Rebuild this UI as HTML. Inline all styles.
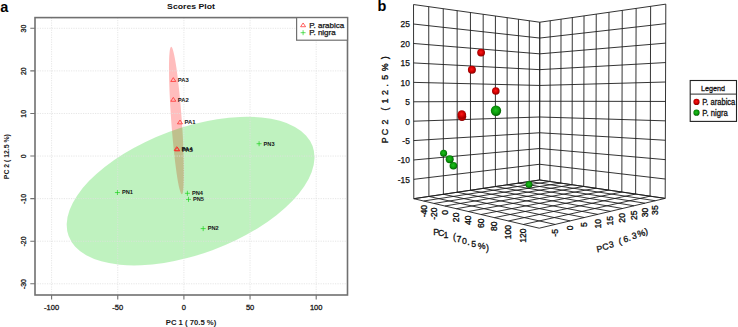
<!DOCTYPE html>
<html><head><meta charset="utf-8"><style>
html,body{margin:0;padding:0;background:#fff;}
body{width:738px;height:327px;overflow:hidden;}
svg{display:block;}
</style></head><body>
<svg width="738" height="327" viewBox="0 0 738 327">
<defs><radialGradient id="gr" cx="0.47" cy="0.45" r="0.6"><stop offset="0" stop-color="#ff1818"/><stop offset="0.55" stop-color="#cc0000"/><stop offset="1" stop-color="#780000"/></radialGradient><radialGradient id="gg" cx="0.47" cy="0.45" r="0.6"><stop offset="0" stop-color="#20c020"/><stop offset="0.55" stop-color="#0a9a0a"/><stop offset="1" stop-color="#004c00"/></radialGradient></defs>
<rect width="738" height="327" fill="#fff"/>
<ellipse cx="176.5" cy="120.5" rx="5.3" ry="74" transform="rotate(-4.15 176.5 120.5)" fill="rgb(255,0,0)" fill-opacity="0.26"/>
<ellipse cx="190.6" cy="191.1" rx="130" ry="63" transform="rotate(-20.25 190.6 191.1)" fill="rgb(0,205,0)" fill-opacity="0.25"/>
<path d="M51.6 17.6V295M117.75 17.6V295M183.9 17.6V295M250.05 17.6V295M316.2 17.6V295M35 28.31H347.5M35 70.89H347.5M35 113.47H347.5M35 156.05H347.5M35 198.63H347.5M35 241.21H347.5M35 283.79H347.5" stroke="#e0e0e0" stroke-width="0.8" stroke-dasharray="1.2 1.2" fill="none"/>
<path d="M173.3 77.63L175.85 81.45L170.75 81.45Z" fill="none" stroke="#ff2020" stroke-width="0.7"/>
<path d="M173.3 97.43L175.85 101.25L170.75 101.25Z" fill="none" stroke="#ff2020" stroke-width="0.7"/>
<path d="M180 120.03L182.55 123.85L177.45 123.85Z" fill="none" stroke="#ff2020" stroke-width="0.7"/>
<path d="M176.7 146.63L179.25 150.45L174.15 150.45Z" fill="none" stroke="#ff2020" stroke-width="0.7"/>
<path d="M177.3 147.13L179.85 150.95L174.75 150.95Z" fill="none" stroke="#ff2020" stroke-width="0.7"/>
<path d="M114.95 192.55H119.95M117.45 190.05V195.05" stroke="#10d010" stroke-width="0.65" fill="none"/>
<path d="M200.7 228.6H205.7M203.2 226.1V231.1" stroke="#10d010" stroke-width="0.65" fill="none"/>
<path d="M256.6 143.7H261.6M259.1 141.2V146.2" stroke="#10d010" stroke-width="0.65" fill="none"/>
<path d="M184.9 193.3H189.9M187.4 190.8V195.8" stroke="#10d010" stroke-width="0.65" fill="none"/>
<path d="M186 199.4H191M188.5 196.9V201.9" stroke="#10d010" stroke-width="0.65" fill="none"/>
<text x="177.8" y="81.8" font-family="'Liberation Sans', sans-serif" font-size="5.3" font-weight="bold" textLength="11" lengthAdjust="spacingAndGlyphs" fill="#151515" >PA3</text><text x="177.8" y="101.6" font-family="'Liberation Sans', sans-serif" font-size="5.3" font-weight="bold" textLength="11" lengthAdjust="spacingAndGlyphs" fill="#151515" >PA2</text><text x="184.5" y="124.2" font-family="'Liberation Sans', sans-serif" font-size="5.3" font-weight="bold" textLength="11" lengthAdjust="spacingAndGlyphs" fill="#151515" >PA1</text><text x="121.95" y="194.35" font-family="'Liberation Sans', sans-serif" font-size="5.3" font-weight="bold" textLength="11" lengthAdjust="spacingAndGlyphs" fill="#151515" >PN1</text><text x="207.7" y="230.4" font-family="'Liberation Sans', sans-serif" font-size="5.3" font-weight="bold" textLength="11" lengthAdjust="spacingAndGlyphs" fill="#151515" >PN2</text><text x="263.6" y="145.5" font-family="'Liberation Sans', sans-serif" font-size="5.3" font-weight="bold" textLength="11" lengthAdjust="spacingAndGlyphs" fill="#151515" >PN3</text><text x="191.9" y="195.1" font-family="'Liberation Sans', sans-serif" font-size="5.3" font-weight="bold" textLength="11" lengthAdjust="spacingAndGlyphs" fill="#151515" >PN4</text><text x="193" y="201.2" font-family="'Liberation Sans', sans-serif" font-size="5.3" font-weight="bold" textLength="11" lengthAdjust="spacingAndGlyphs" fill="#151515" >PN5</text><text x="181.6" y="151.1" font-family="'Liberation Sans', sans-serif" font-size="5.3" font-weight="bold" textLength="11" lengthAdjust="spacingAndGlyphs" fill="#151515" >PA4</text><text x="182.1" y="151.6" font-family="'Liberation Sans', sans-serif" font-size="5.3" font-weight="bold" textLength="11" lengthAdjust="spacingAndGlyphs" fill="#151515" >PA5</text>
<rect x="35" y="17.6" width="312.5" height="277.4" fill="none" stroke="#707070" stroke-width="1.6"/>
<path d="M51.6 295V299.5M117.75 295V299.5M183.9 295V299.5M250.05 295V299.5M316.2 295V299.5M30.3 28.31H35M30.3 70.89H35M30.3 113.47H35M30.3 156.05H35M30.3 198.63H35M30.3 241.21H35M30.3 283.79H35" stroke="#707070" stroke-width="1.1" fill="none"/>
<text x="51.6" y="309.8" font-family="'Liberation Sans', sans-serif" font-size="7.5" text-anchor="middle" fill="#1a1a1a" stroke="#1a1a1a" stroke-width="0.3">-100</text><text x="117.75" y="309.8" font-family="'Liberation Sans', sans-serif" font-size="7.5" text-anchor="middle" fill="#1a1a1a" stroke="#1a1a1a" stroke-width="0.3">-50</text><text x="183.9" y="309.8" font-family="'Liberation Sans', sans-serif" font-size="7.5" text-anchor="middle" fill="#1a1a1a" stroke="#1a1a1a" stroke-width="0.3">0</text><text x="250.05" y="309.8" font-family="'Liberation Sans', sans-serif" font-size="7.5" text-anchor="middle" fill="#1a1a1a" stroke="#1a1a1a" stroke-width="0.3">50</text><text x="316.2" y="309.8" font-family="'Liberation Sans', sans-serif" font-size="7.5" text-anchor="middle" fill="#1a1a1a" stroke="#1a1a1a" stroke-width="0.3">100</text><g transform="translate(25.5 28.61) rotate(-90)"><text x="0" y="0" font-family="'Liberation Sans', sans-serif" font-size="7.0" text-anchor="middle" fill="#1a1a1a" stroke="#1a1a1a" stroke-width="0.3">30</text></g><g transform="translate(25.5 71.19) rotate(-90)"><text x="0" y="0" font-family="'Liberation Sans', sans-serif" font-size="7.0" text-anchor="middle" fill="#1a1a1a" stroke="#1a1a1a" stroke-width="0.3">20</text></g><g transform="translate(25.5 113.77) rotate(-90)"><text x="0" y="0" font-family="'Liberation Sans', sans-serif" font-size="7.0" text-anchor="middle" fill="#1a1a1a" stroke="#1a1a1a" stroke-width="0.3">10</text></g><g transform="translate(25.5 156.35) rotate(-90)"><text x="0" y="0" font-family="'Liberation Sans', sans-serif" font-size="7.0" text-anchor="middle" fill="#1a1a1a" stroke="#1a1a1a" stroke-width="0.3">0</text></g><g transform="translate(25.5 198.93) rotate(-90)"><text x="0" y="0" font-family="'Liberation Sans', sans-serif" font-size="7.0" text-anchor="middle" fill="#1a1a1a" stroke="#1a1a1a" stroke-width="0.3">-10</text></g><g transform="translate(25.5 241.51) rotate(-90)"><text x="0" y="0" font-family="'Liberation Sans', sans-serif" font-size="7.0" text-anchor="middle" fill="#1a1a1a" stroke="#1a1a1a" stroke-width="0.3">-20</text></g><g transform="translate(25.5 284.09) rotate(-90)"><text x="0" y="0" font-family="'Liberation Sans', sans-serif" font-size="7.0" text-anchor="middle" fill="#1a1a1a" stroke="#1a1a1a" stroke-width="0.3">-30</text></g>
<text x="191" y="324.6" font-family="'Liberation Sans', sans-serif" font-size="7.2" font-weight="bold" text-anchor="middle" textLength="50.5" lengthAdjust="spacingAndGlyphs" fill="#1a1a1a" >PC 1 ( 70.5 %)</text>
<g transform="translate(8.9 156.7) rotate(-90)"><text x="0" y="0" font-family="'Liberation Sans', sans-serif" font-size="7.2" font-weight="bold" text-anchor="middle" textLength="45" lengthAdjust="spacingAndGlyphs" fill="#1a1a1a" >PC 2 ( 12.5 %)</text></g>
<text x="191" y="9.1" font-family="'Liberation Sans', sans-serif" font-size="7.6" font-weight="bold" text-anchor="middle" textLength="47.8" lengthAdjust="spacingAndGlyphs" fill="#111" >Scores Plot</text>
<rect x="296.6" y="17.6" width="50.9" height="22.6" fill="#fff" stroke="#707070" stroke-width="1.2"/>
<path d="M303.1 22.98L305.6 26.73L300.6 26.73Z" fill="none" stroke="#ff2020" stroke-width="0.7"/>
<path d="M300.6 32.7H305.6M303.1 30.2V35.2" stroke="#10d010" stroke-width="0.65" fill="none"/>
<text x="309.2" y="27.7" font-family="'Liberation Sans', sans-serif" font-size="6.5" textLength="35" lengthAdjust="spacingAndGlyphs" fill="#1a1a1a" stroke="#1a1a1a" stroke-width="0.25">P. arabica</text>
<text x="309.2" y="35.3" font-family="'Liberation Sans', sans-serif" font-size="6.5" textLength="26.4" lengthAdjust="spacingAndGlyphs" fill="#1a1a1a" stroke="#1a1a1a" stroke-width="0.25">P. nigra</text>
<text x="0.3" y="11.5" font-family="'Liberation Sans', sans-serif" font-size="14.5" font-weight="bold" fill="#000" >a</text>
<path d="M413.79 198.69L413.53 4.54M428.92 196.44L428.72 6.67M443.39 194.29L443.24 8.7M457.23 192.23L457.13 10.65M470.49 190.26L470.43 12.52M483.2 188.37L483.18 14.3M495.39 186.56L495.41 16.02M507.1 184.82L507.16 17.66M518.36 183.14L518.45 19.24M529.19 181.53L529.31 20.77M539.61 179.99L539.76 22.23M413.79 198.69L539.61 179.99M413.77 179.34L539.62 164.25M413.74 159.97L539.64 148.51M413.71 140.59L539.65 132.75M413.69 121.19L539.67 116.99M413.66 101.79L539.68 101.22M413.64 82.37L539.7 85.44M413.61 62.93L539.71 69.65M413.58 43.48L539.73 53.85M413.56 24.02L539.74 38.05M413.53 4.54L539.76 22.23M539.61 179.99L539.76 22.23M550.01 181.51L550.19 20.73M560.81 183.09L561.03 19.18M572.04 184.74L572.3 17.56M583.73 186.45L584.03 15.88M595.9 188.23L596.24 14.13M608.59 190.09L608.98 12.3M621.82 192.03L622.26 10.4M635.64 194.05L636.14 8.41M650.08 196.16L650.64 6.33M665.19 198.38L665.81 4.15M539.61 179.99L665.19 198.38M539.62 164.25L665.25 179.02M539.64 148.51L665.31 159.64M539.65 132.75L665.37 140.25M539.67 116.99L665.44 120.85M539.68 101.22L665.5 101.44M539.7 85.44L665.56 82.01M539.71 69.65L665.63 62.56M539.73 53.85L665.69 43.11M539.74 38.05L665.75 23.64M539.76 22.23L665.81 4.15M413.79 198.69L539.61 179.99M423.67 201.01L550.01 181.51M434.03 203.45L560.81 183.09M444.9 206L572.04 184.74M456.32 208.69L583.73 186.45M468.34 211.52L595.9 188.23M481 214.5L608.59 190.09M494.35 217.64L621.82 192.03M508.47 220.96L635.64 194.05M523.4 224.47L650.08 196.16M539.23 228.19L665.19 198.38M413.79 198.69L539.23 228.19M428.92 196.44L555.12 224.43M443.39 194.29L570.12 220.88M457.23 192.23L584.28 217.53M470.49 190.26L597.7 214.35M483.2 188.37L610.41 211.34M495.39 186.56L622.48 208.49M507.1 184.82L633.95 205.77M518.36 183.14L644.86 203.19M529.19 181.53L655.26 200.73M539.61 179.99L665.19 198.38" stroke="#1e1e1e" stroke-width="0.9" fill="none"/>
<circle cx="481.1" cy="52.6" r="3.9" fill="url(#gr)"/>
<circle cx="471.9" cy="69.7" r="4.0" fill="url(#gr)"/>
<circle cx="495.8" cy="91.0" r="3.8" fill="url(#gr)"/>
<circle cx="462.0" cy="116.6" r="4.3" fill="url(#gr)"/>
<circle cx="461.8" cy="114.5" r="4.3" fill="url(#gr)"/>
<circle cx="496.0" cy="110.8" r="5.2" fill="url(#gg)"/>
<circle cx="453.4" cy="165.7" r="3.8" fill="url(#gg)"/>
<circle cx="449.7" cy="159.3" r="4.0" fill="url(#gg)"/>
<circle cx="443.6" cy="153.2" r="3.5" fill="url(#gg)"/>
<circle cx="529.0" cy="184.6" r="3.5" fill="url(#gg)"/>
<text x="409.8" y="182.74" font-family="'Liberation Sans', sans-serif" font-size="8.4" text-anchor="end" fill="#111" stroke="#111" stroke-width="0.25">-15</text><text x="409.8" y="163.37" font-family="'Liberation Sans', sans-serif" font-size="8.4" text-anchor="end" fill="#111" stroke="#111" stroke-width="0.25">-10</text><text x="409.8" y="143.99" font-family="'Liberation Sans', sans-serif" font-size="8.4" text-anchor="end" fill="#111" stroke="#111" stroke-width="0.25">-5</text><text x="409.8" y="124.59" font-family="'Liberation Sans', sans-serif" font-size="8.4" text-anchor="end" fill="#111" stroke="#111" stroke-width="0.25">0</text><text x="409.8" y="105.19" font-family="'Liberation Sans', sans-serif" font-size="8.4" text-anchor="end" fill="#111" stroke="#111" stroke-width="0.25">5</text><text x="409.8" y="85.77" font-family="'Liberation Sans', sans-serif" font-size="8.4" text-anchor="end" fill="#111" stroke="#111" stroke-width="0.25">10</text><text x="409.8" y="66.33" font-family="'Liberation Sans', sans-serif" font-size="8.4" text-anchor="end" fill="#111" stroke="#111" stroke-width="0.25">15</text><text x="409.8" y="46.88" font-family="'Liberation Sans', sans-serif" font-size="8.4" text-anchor="end" fill="#111" stroke="#111" stroke-width="0.25">20</text><text x="409.8" y="27.42" font-family="'Liberation Sans', sans-serif" font-size="8.4" text-anchor="end" fill="#111" stroke="#111" stroke-width="0.25">25</text>
<g transform="translate(426.67 204.91) rotate(-90)"><text x="0" y="0" font-family="'Liberation Sans', sans-serif" font-size="8.6" text-anchor="end" fill="#111" stroke="#111" stroke-width="0.35">-40</text></g><g transform="translate(437.03 207.35) rotate(-90)"><text x="0" y="0" font-family="'Liberation Sans', sans-serif" font-size="8.6" text-anchor="end" fill="#111" stroke="#111" stroke-width="0.35">-20</text></g><g transform="translate(447.9 209.9) rotate(-90)"><text x="0" y="0" font-family="'Liberation Sans', sans-serif" font-size="8.6" text-anchor="end" fill="#111" stroke="#111" stroke-width="0.35">0</text></g><g transform="translate(459.32 212.59) rotate(-90)"><text x="0" y="0" font-family="'Liberation Sans', sans-serif" font-size="8.6" text-anchor="end" fill="#111" stroke="#111" stroke-width="0.35">20</text></g><g transform="translate(471.34 215.42) rotate(-90)"><text x="0" y="0" font-family="'Liberation Sans', sans-serif" font-size="8.6" text-anchor="end" fill="#111" stroke="#111" stroke-width="0.35">40</text></g><g transform="translate(484 218.4) rotate(-90)"><text x="0" y="0" font-family="'Liberation Sans', sans-serif" font-size="8.6" text-anchor="end" fill="#111" stroke="#111" stroke-width="0.35">60</text></g><g transform="translate(497.35 221.54) rotate(-90)"><text x="0" y="0" font-family="'Liberation Sans', sans-serif" font-size="8.6" text-anchor="end" fill="#111" stroke="#111" stroke-width="0.35">80</text></g><g transform="translate(511.47 224.86) rotate(-90)"><text x="0" y="0" font-family="'Liberation Sans', sans-serif" font-size="8.6" text-anchor="end" fill="#111" stroke="#111" stroke-width="0.35">100</text></g><g transform="translate(526.4 228.37) rotate(-90)"><text x="0" y="0" font-family="'Liberation Sans', sans-serif" font-size="8.6" text-anchor="end" fill="#111" stroke="#111" stroke-width="0.35">120</text></g><g transform="translate(558.12 229.03) rotate(-90)"><text x="0" y="0" font-family="'Liberation Sans', sans-serif" font-size="8.6" text-anchor="end" fill="#111" stroke="#111" stroke-width="0.35">-5</text></g><g transform="translate(573.12 225.48) rotate(-90)"><text x="0" y="0" font-family="'Liberation Sans', sans-serif" font-size="8.6" text-anchor="end" fill="#111" stroke="#111" stroke-width="0.35">0</text></g><g transform="translate(587.28 222.13) rotate(-90)"><text x="0" y="0" font-family="'Liberation Sans', sans-serif" font-size="8.6" text-anchor="end" fill="#111" stroke="#111" stroke-width="0.35">5</text></g><g transform="translate(600.7 218.95) rotate(-90)"><text x="0" y="0" font-family="'Liberation Sans', sans-serif" font-size="8.6" text-anchor="end" fill="#111" stroke="#111" stroke-width="0.35">10</text></g><g transform="translate(613.41 215.94) rotate(-90)"><text x="0" y="0" font-family="'Liberation Sans', sans-serif" font-size="8.6" text-anchor="end" fill="#111" stroke="#111" stroke-width="0.35">15</text></g><g transform="translate(625.48 213.09) rotate(-90)"><text x="0" y="0" font-family="'Liberation Sans', sans-serif" font-size="8.6" text-anchor="end" fill="#111" stroke="#111" stroke-width="0.35">20</text></g><g transform="translate(636.95 210.37) rotate(-90)"><text x="0" y="0" font-family="'Liberation Sans', sans-serif" font-size="8.6" text-anchor="end" fill="#111" stroke="#111" stroke-width="0.35">25</text></g><g transform="translate(647.86 207.79) rotate(-90)"><text x="0" y="0" font-family="'Liberation Sans', sans-serif" font-size="8.6" text-anchor="end" fill="#111" stroke="#111" stroke-width="0.35">30</text></g><g transform="translate(658.26 205.33) rotate(-90)"><text x="0" y="0" font-family="'Liberation Sans', sans-serif" font-size="8.6" text-anchor="end" fill="#111" stroke="#111" stroke-width="0.35">35</text></g>
<g transform="translate(436.15 234.5) rotate(0)"><text x="0" y="0" font-family="'Liberation Sans', sans-serif" font-size="8.8" text-anchor="middle" fill="#111" stroke="#111" stroke-width="0.3">P</text></g><g transform="translate(441.05 236.08) rotate(0)"><text x="0" y="0" font-family="'Liberation Sans', sans-serif" font-size="8.8" text-anchor="middle" fill="#111" stroke="#111" stroke-width="0.3">C</text></g><g transform="translate(446 237.69) rotate(0)"><text x="0" y="0" font-family="'Liberation Sans', sans-serif" font-size="8.8" text-anchor="middle" fill="#111" stroke="#111" stroke-width="0.3">1</text></g><g transform="translate(454.4 240.4) rotate(0)"><text x="0" y="0" font-family="'Liberation Sans', sans-serif" font-size="8.8" text-anchor="middle" fill="#111" stroke="#111" stroke-width="0.3">(</text></g><g transform="translate(458.9 241.86) rotate(0)"><text x="0" y="0" font-family="'Liberation Sans', sans-serif" font-size="8.8" text-anchor="middle" fill="#111" stroke="#111" stroke-width="0.3">7</text></g><g transform="translate(464.35 243.62) rotate(0)"><text x="0" y="0" font-family="'Liberation Sans', sans-serif" font-size="8.8" text-anchor="middle" fill="#111" stroke="#111" stroke-width="0.3">0</text></g><g transform="translate(468.4 244.93) rotate(0)"><text x="0" y="0" font-family="'Liberation Sans', sans-serif" font-size="8.8" text-anchor="middle" fill="#111" stroke="#111" stroke-width="0.3">.</text></g><g transform="translate(473.8 246.68) rotate(0)"><text x="0" y="0" font-family="'Liberation Sans', sans-serif" font-size="8.8" text-anchor="middle" fill="#111" stroke="#111" stroke-width="0.3">5</text></g><g transform="translate(481.7 249.24) rotate(0)"><text x="0" y="0" font-family="'Liberation Sans', sans-serif" font-size="8.8" text-anchor="middle" fill="#111" stroke="#111" stroke-width="0.3">%</text></g><g transform="translate(487.4 251.08) rotate(0)"><text x="0" y="0" font-family="'Liberation Sans', sans-serif" font-size="8.8" text-anchor="middle" fill="#111" stroke="#111" stroke-width="0.3">)</text></g>
<g transform="translate(600.2 251.86) rotate(-12)"><text x="0" y="0" font-family="'Liberation Sans', sans-serif" font-size="8.8" text-anchor="middle" fill="#111" stroke="#111" stroke-width="0.3">P</text></g><g transform="translate(606.1 249.64) rotate(-12)"><text x="0" y="0" font-family="'Liberation Sans', sans-serif" font-size="8.8" text-anchor="middle" fill="#111" stroke="#111" stroke-width="0.3">C</text></g><g transform="translate(611.85 247.48) rotate(-12)"><text x="0" y="0" font-family="'Liberation Sans', sans-serif" font-size="8.8" text-anchor="middle" fill="#111" stroke="#111" stroke-width="0.3">3</text></g><g transform="translate(620.7 244.15) rotate(-12)"><text x="0" y="0" font-family="'Liberation Sans', sans-serif" font-size="8.8" text-anchor="middle" fill="#111" stroke="#111" stroke-width="0.3">(</text></g><g transform="translate(626.4 242) rotate(-12)"><text x="0" y="0" font-family="'Liberation Sans', sans-serif" font-size="8.8" text-anchor="middle" fill="#111" stroke="#111" stroke-width="0.3">6</text></g><g transform="translate(630 240.65) rotate(-12)"><text x="0" y="0" font-family="'Liberation Sans', sans-serif" font-size="8.8" text-anchor="middle" fill="#111" stroke="#111" stroke-width="0.3">.</text></g><g transform="translate(634.8 238.84) rotate(-12)"><text x="0" y="0" font-family="'Liberation Sans', sans-serif" font-size="8.8" text-anchor="middle" fill="#111" stroke="#111" stroke-width="0.3">3</text></g><g transform="translate(641.7 236.24) rotate(-12)"><text x="0" y="0" font-family="'Liberation Sans', sans-serif" font-size="8.8" text-anchor="middle" fill="#111" stroke="#111" stroke-width="0.3">%</text></g><g transform="translate(646.9 234.29) rotate(-12)"><text x="0" y="0" font-family="'Liberation Sans', sans-serif" font-size="8.8" text-anchor="middle" fill="#111" stroke="#111" stroke-width="0.3">)</text></g>
<g transform="translate(387.9 140.25) rotate(-90)"><text x="0" y="0" font-family="'Liberation Sans', sans-serif" font-size="8.8" text-anchor="middle" fill="#111" stroke="#111" stroke-width="0.35">P</text></g><g transform="translate(387.9 132.05) rotate(-90)"><text x="0" y="0" font-family="'Liberation Sans', sans-serif" font-size="8.8" text-anchor="middle" fill="#111" stroke="#111" stroke-width="0.35">C</text></g><g transform="translate(387.9 122) rotate(-90)"><text x="0" y="0" font-family="'Liberation Sans', sans-serif" font-size="8.8" text-anchor="middle" fill="#111" stroke="#111" stroke-width="0.35">2</text></g><g transform="translate(387.9 109.15) rotate(-90)"><text x="0" y="0" font-family="'Liberation Sans', sans-serif" font-size="8.8" text-anchor="middle" fill="#111" stroke="#111" stroke-width="0.35">(</text></g><g transform="translate(387.9 101) rotate(-90)"><text x="0" y="0" font-family="'Liberation Sans', sans-serif" font-size="8.8" text-anchor="middle" fill="#111" stroke="#111" stroke-width="0.35">1</text></g><g transform="translate(387.9 92.5) rotate(-90)"><text x="0" y="0" font-family="'Liberation Sans', sans-serif" font-size="8.8" text-anchor="middle" fill="#111" stroke="#111" stroke-width="0.35">2</text></g><g transform="translate(387.9 85.2) rotate(-90)"><text x="0" y="0" font-family="'Liberation Sans', sans-serif" font-size="8.8" text-anchor="middle" fill="#111" stroke="#111" stroke-width="0.35">.</text></g><g transform="translate(387.9 77.25) rotate(-90)"><text x="0" y="0" font-family="'Liberation Sans', sans-serif" font-size="8.8" text-anchor="middle" fill="#111" stroke="#111" stroke-width="0.35">5</text></g><g transform="translate(387.9 67.25) rotate(-90)"><text x="0" y="0" font-family="'Liberation Sans', sans-serif" font-size="8.8" text-anchor="middle" fill="#111" stroke="#111" stroke-width="0.35">%</text></g><g transform="translate(387.9 57.9) rotate(-90)"><text x="0" y="0" font-family="'Liberation Sans', sans-serif" font-size="8.8" text-anchor="middle" fill="#111" stroke="#111" stroke-width="0.35">)</text></g>
<text x="377.5" y="11.3" font-family="'Liberation Sans', sans-serif" font-size="14.5" font-weight="bold" fill="#000" >b</text>
<rect x="690.2" y="80.5" width="46.3" height="40.9" fill="#fff" stroke="#222" stroke-width="1.1"/>
<path d="M690.1 94.1H736.5" stroke="#2a2a2a" stroke-width="1"/>
<text x="712.9" y="90.9" font-family="'Liberation Sans', sans-serif" font-size="8.0" text-anchor="middle" textLength="24" lengthAdjust="spacingAndGlyphs" fill="#111" stroke="#111" stroke-width="0.3">Legend</text>
<circle cx="696.5" cy="101.9" r="3.1" fill="url(#gr)"/><circle cx="696.5" cy="112.7" r="3.1" fill="url(#gg)"/>
<text x="702.3" y="105.4" font-family="'Liberation Sans', sans-serif" font-size="8.3" textLength="33" lengthAdjust="spacingAndGlyphs" fill="#111" stroke="#111" stroke-width="0.3">P. arabica</text>
<text x="702.3" y="116" font-family="'Liberation Sans', sans-serif" font-size="8.3" textLength="25.5" lengthAdjust="spacingAndGlyphs" fill="#111" stroke="#111" stroke-width="0.3">P. nigra</text>
</svg>
</body></html>
